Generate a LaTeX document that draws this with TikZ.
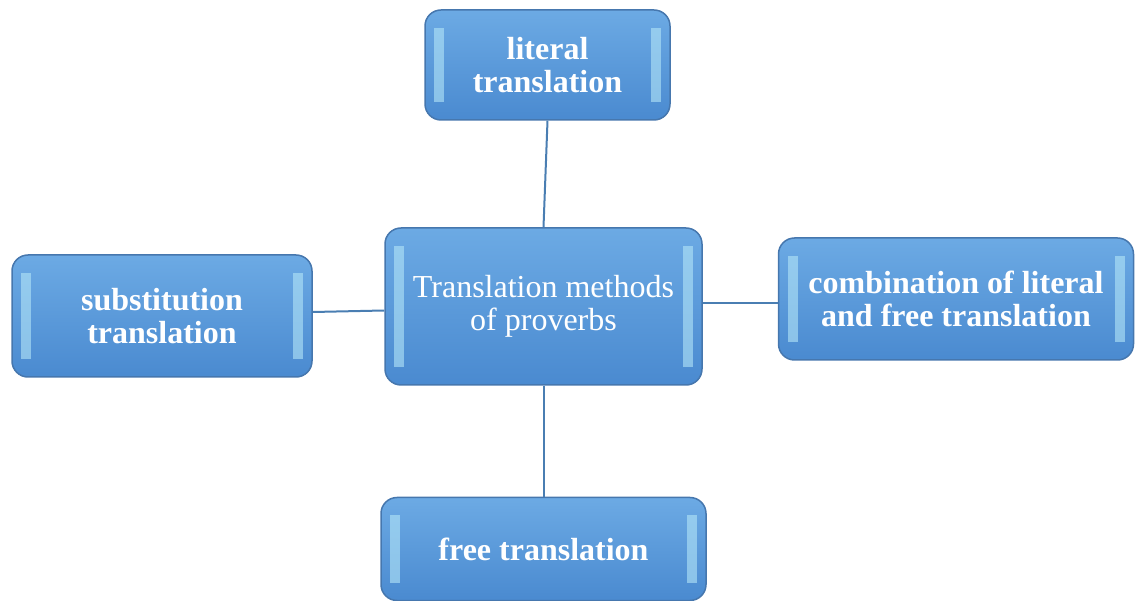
\documentclass[tikz,border=0pt]{standalone}
\usepackage{fontspec}
\setmainfont{Liberation Serif}
\definecolor{boxtop}{HTML}{6CAAE4}
\definecolor{boxbot}{HTML}{4A8AD0}
\definecolor{boxborder}{HTML}{4677AE}
\definecolor{hl}{HTML}{B4E6F8}
\definecolor{link}{HTML}{4A7EB2}
\tikzset{
  mbox/.style={draw=boxborder, line width=1.5pt, rounded corners=16pt,
    top color=boxtop, bottom color=boxbot, text=white, align=center,
    font=\fontsize{32}{33.5}\selectfont\bfseries, inner sep=0pt,
    path picture={
      \fill[sharp corners, hl, opacity=0.6] ([xshift=9pt,yshift=-18pt]path picture bounding box.north west)
        rectangle ([xshift=19pt,yshift=18pt]path picture bounding box.south west);
      \fill[sharp corners, hl, opacity=0.6] ([xshift=-9pt,yshift=-18pt]path picture bounding box.north east)
        rectangle ([xshift=-19pt,yshift=18pt]path picture bounding box.south east);
    }},
  link/.style={draw=link, line width=2pt}
}
\begin{document}
\begin{tikzpicture}[x=1pt,y=-1pt]
\useasboundingbox (0,0) rectangle (1136,601);
\node[mbox, minimum width=245pt, minimum height=110pt] (top) at (547.5,65) {literal\\translation};
\node[mbox, minimum width=317pt, minimum height=157pt, font=\fontsize{32}{33.5}\selectfont] (center) at (543.5,306.5) {Translation methods\\of proverbs};
\node[mbox, minimum width=300pt, minimum height=122pt] (left) at (162,316) {substitution\\translation};
\node[mbox, minimum width=355pt, minimum height=122pt] (right) at (956,299) {combination of literal\\and free translation};
\node[mbox, minimum width=325pt, minimum height=103pt] (bottom) at (543.5,549) {free translation};
\draw[link] (top.south) -- (center.north);
\draw[link] ([yshift=4pt]left.east) -- ([yshift=-4pt]center.west);
\draw[link] ([yshift=3.5pt]center.east) -- ([yshift=-4pt]right.west);
\draw[link] (center.south) -- (bottom.north);
\end{tikzpicture}
\end{document}
